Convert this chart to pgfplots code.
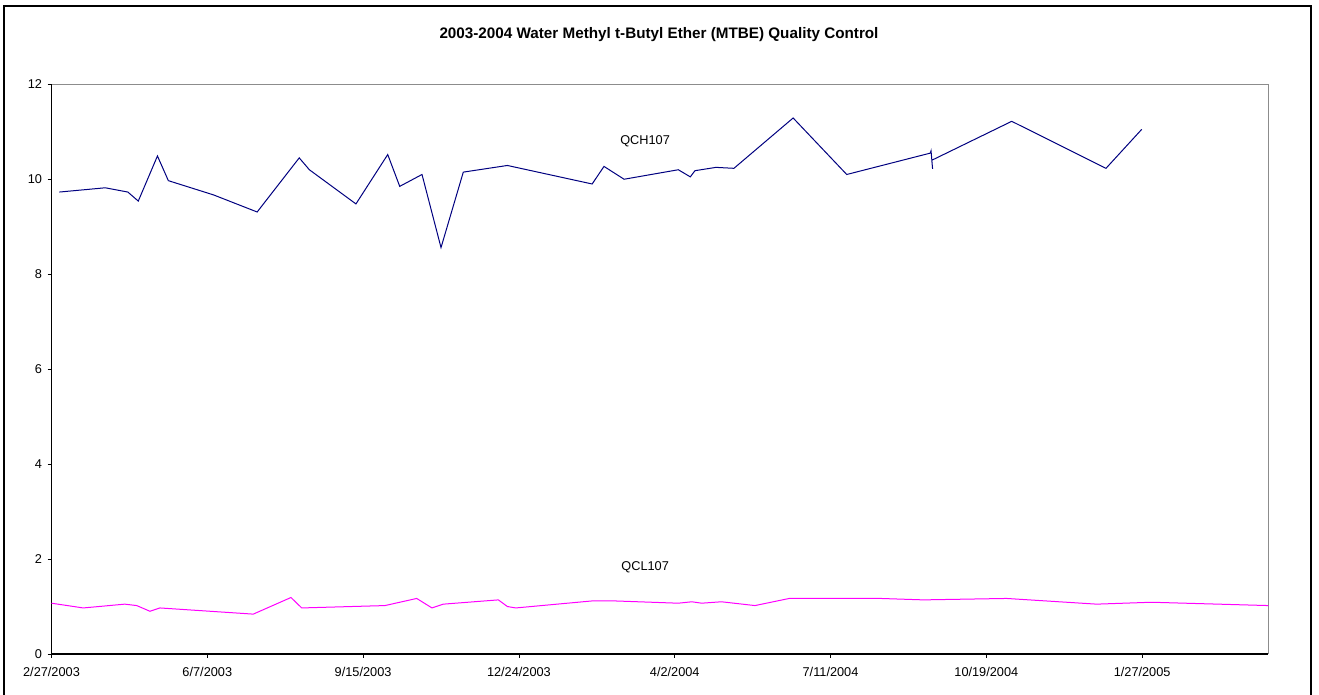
\documentclass[border=0pt]{standalone}
\usepackage{fontspec}
\setmainfont{Liberation Sans}
\usepackage{pgfplots}
\pgfplotsset{compat=1.18}
\definecolor{qch}{RGB}{0,0,128}
\definecolor{qcl}{RGB}{255,0,255}
\begin{document}
\begin{tikzpicture}[x=1bp,y=1bp]
\useasboundingbox (0,0) rectangle (1319,694);
\fill[white] (0,0) rectangle (1319,694);
\draw[black, line width=1.5bp] (4,-5) -- (4,688) -- (1311,688) -- (1311,-5);
\node[font=\bfseries\fontsize{15.3}{17}\selectfont] at (659,659) {2003-2004 Water Methyl t-Butyl Ether (MTBE) Quality Control};
\begin{axis}[
  at={(51.5bp,40bp)}, anchor=south west,
  scale only axis, width=1216.8bp, height=569.7bp,
  xmin=0, xmax=781, ymin=0, ymax=12,
  axis line style={draw=gray!90, line width=1bp},
  xtick={0,100,200,300,400,500,600,700},
  xticklabels={2/27/2003,6/7/2003,9/15/2003,12/24/2003,4/2/2004,7/11/2004,10/19/2004,1/27/2005},
  ytick={0,2,4,6,8,10,12},
  xtick pos=left, ytick pos=left,
  tick align=outside, major tick length=4bp,
  tick style={black, line width=0.8bp},
  ticklabel style={font=\fontsize{12.8}{14}\selectfont},
  xticklabel style={yshift=-6bp},
  yticklabel style={xshift=-2bp},
  /pgf/number format/assume math mode=true,
  clip=false,
]
\draw[black, line width=1.2bp] (rel axis cs:0,1) -- (rel axis cs:0,0) -- (rel axis cs:1,0);
\addplot[qch, line width=1bp, mark=none] coordinates {
(5,9.73) (34.5,9.82) (49,9.73) (55.7,9.54) (68,10.49) (75,9.97) (104,9.67) (132,9.31)
(159,10.45) (165.5,10.20) (195.4,9.48) (215.8,10.52) (223.5,9.85) (237.8,10.10) (250,8.56)
(264.3,10.15) (292.6,10.29) (347,9.90) (354.6,10.27) (367.5,10.00) (402.3,10.20) (410,10.05)
(413,10.18) (426.5,10.25) (438,10.23) (476,11.29) (510.4,10.10) (564,10.55) (564.5,10.60)
(565.5,10.22) (565,10.40) (616.3,11.22) (676.8,10.23) (699.7,11.05)
};
\addplot[qcl, line width=1bp, mark=none] coordinates {
(0,1.07) (20.4,0.97) (47,1.05) (54.7,1.02) (63.2,0.90) (69.6,0.97) (129.5,0.84) (153.7,1.19)
(160.6,0.97) (214,1.02) (234.4,1.17) (244.2,0.97) (251.5,1.05) (286.8,1.14) (292.6,1.00)
(298,0.97) (347.7,1.12) (359.5,1.12) (402.3,1.07) (411,1.10) (417.3,1.07) (430,1.10)
(451.5,1.02) (473.5,1.17) (532,1.17) (559.6,1.14) (613,1.17) (670.8,1.05) (706,1.09) (781,1.02)
};
\node[font=\fontsize{12.8}{14}\selectfont] at (axis cs:381,10.8) {QCH107};
\node[font=\fontsize{12.8}{14}\selectfont] at (axis cs:381,1.83) {QCL107};
\end{axis}
\end{tikzpicture}
\end{document}
